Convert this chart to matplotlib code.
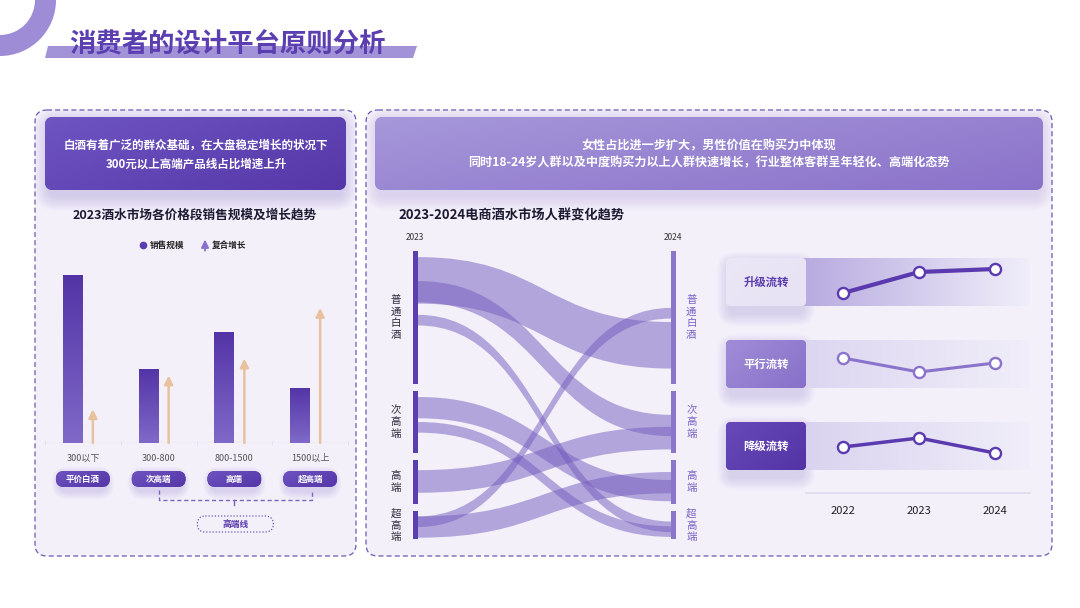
import numpy as np
import matplotlib
matplotlib.use('Agg')
import matplotlib.pyplot as plt
from matplotlib.patches import FancyBboxPatch, Polygon, Wedge, PathPatch
from matplotlib.path import Path
import matplotlib.colors as mcolors

plt.rcParams['font.family'] = ['Noto Sans CJK SC', 'DejaVu Sans']

# ---------------- data ----------------
title = '消费者的设计平台原则分析'
left_note = ['白酒有着广泛的群众基础，在大盘稳定增长的状况下', '300元以上高端产品线占比增速上升']
right_note = ['女性占比进一步扩大，男性价值在购买力中体现',
              '同时18-24岁人群以及中度购买力以上人群快速增长，行业整体客群呈年轻化、高端化态势']
bar_title = '2023酒水市场各价格段销售规模及增长趋势'
legend_labels = ['销售规模', '复合增长']
price_ranges = ['300以下', '300-800', '800-1500', '1500以上']
segments = ['平价白酒', '次高端', '高端', '超高端']
sales = [1680, 740, 1110, 550]
growth = [5.0, 10.0, 12.5, 20.0]
bracket_label = '高端线'

sankey_title = '2023-2024电商酒水市场人群变化趋势'
sankey_years = ['2023', '2024']
nodes = ['普通白酒', '次高端', '高端', '超高端']
share_2023 = [50, 23, 16.5, 10.5]
share_2024 = [50, 23, 16.5, 10.5]
flow_src = [0, 0, 0, 1, 1, 2, 3, 3]
flow_dst = [0, 1, 3, 2, 3, 1, 0, 2]
flow_val = [17.5, 8, 4, 8, 4, 8.5, 4, 8]

trend_labels = ['升级流转', '平行流转', '降级流转']
trend_years = [2022, 2023, 2024]
upgrade = [13, 34, 37]
parallel = [30, 16, 25]
downgrade = [23, 32, 17]
trend_values = [upgrade, parallel, downgrade]

# ---------------- figure ----------------
W, H = 1080, 608
fig = plt.figure(figsize=(W / 100, H / 100), dpi=100)
fig.patch.set_facecolor('white')


def frac(x0, y0, x1, y1):
    return [x0 / W, 1 - y1 / H, (x1 - x0) / W, (y1 - y0) / H]


bg = fig.add_axes([0, 0, 1, 1], zorder=0)
bg.axis('off')
bg.set_xlim(0, W)
bg.set_ylim(H, 0)
bg.set_autoscale_on(False)


def rbox(x0, y0, x1, y1, r, **kw):
    p = FancyBboxPatch((x0, y0), x1 - x0, y1 - y0,
                       boxstyle=f'round,pad=0,rounding_size={r}', **kw)
    bg.add_patch(p)
    return p


def gradient(ax, x0, y0, x1, y1, c0, c1, mode='h', clip=None, z=2):
    cmap = mcolors.LinearSegmentedColormap.from_list('g', [c0, c1])
    n = 200
    if mode == 'h':
        arr = np.tile(np.linspace(0, 1, n), (2, 1))
    elif mode == 'v':
        arr = np.tile(np.linspace(0, 1, n)[:, None], (1, 2))
    else:
        X, Y = np.meshgrid(np.linspace(0, 1, n), np.linspace(0, 1, n))
        arr = X * 0.6 + Y * 0.4
    im = ax.imshow(arr, extent=(x0, x1, y1, y0), cmap=cmap, vmin=0, vmax=1,
                   aspect='auto', interpolation='bilinear', zorder=z)
    if clip is not None:
        im.set_clip_path(clip)
    return im


def shadow(x0, y0, x1, y1, r, color='#7a62c8', dy=6, n=8, spread=1.8, alpha=0.03, z=1.5):
    for i in range(n):
        p = (i + 1) * spread
        q = FancyBboxPatch((x0 + 4, y0 + dy), x1 - x0 - 8, y1 - y0,
                           boxstyle=f'round,pad={p},rounding_size={r + p}',
                           facecolor=color, edgecolor='none', alpha=alpha, zorder=z)
        bg.add_patch(q)


def grad_box(x0, y0, x1, y1, r, c0, c1, mode='d', z=2):
    clip = rbox(x0, y0, x1, y1, r, facecolor=c1, edgecolor='none', zorder=z)
    gradient(bg, x0, y0, x1, y1, c0, c1, mode=mode, clip=clip, z=z + 0.1)
    return clip


# title decoration
bg.add_patch(Wedge((0, 0), 56, 270, 360, width=21, facecolor='#9e8cd6', edgecolor='none', zorder=2))
bg.add_patch(Wedge((0, 0), 56, 0, 90, width=21, facecolor='#9e8cd6', edgecolor='none', zorder=2))
bg.add_patch(Polygon([(48, 46), (417, 46), (413, 58), (45, 58)], closed=True,
                     facecolor='#a292d8', edgecolor='none', zorder=2))
bg.text(69, 45, title, fontsize=19, fontweight='bold', color='#5b3fb0',
        ha='left', va='center', zorder=5)

# panels
dash = (0, (4, 2.5))
rbox(35, 110, 356, 556, 12, facecolor='#f3f0fa', edgecolor='#6b59b6', lw=0.9, linestyle=dash, zorder=1)
rbox(366, 110, 1052, 556, 12, facecolor='#f3f0fa', edgecolor='#6b59b6', lw=0.9, linestyle=dash, zorder=1)

# header boxes
shadow(45, 117, 346, 190, 8)
grad_box(45, 117, 346, 190, 8, '#6e55c2', '#5637a8')
bg.text(196, 145, left_note[0], fontsize=8.3, fontweight='bold', color='white', ha='center', va='center', zorder=5)
bg.text(196, 164, left_note[1], fontsize=8.3, fontweight='bold', color='white', ha='center', va='center', zorder=5)

shadow(375, 117, 1043, 190, 8, alpha=0.025)
grad_box(375, 117, 1043, 190, 8, '#a697da', '#8a72c9')
bg.text(709, 146, right_note[0], fontsize=8.7, fontweight='bold', color='white', ha='center', va='center', zorder=5)
bg.text(709, 163, right_note[1], fontsize=8.7, fontweight='bold', color='white', ha='center', va='center', zorder=5)

# subtitles
bg.text(195, 215, bar_title, fontsize=9.1, fontweight='bold', color='#1d1b33', ha='center', va='center', zorder=5)
bg.text(398, 216, sankey_title, fontsize=9.5, fontweight='bold', color='#1d1b33', ha='left', va='center', zorder=5)

# legend
bg.plot([143], [245], 'o', ms=4.5, color='#5a3dae', zorder=5)
bg.text(150, 245, legend_labels[0], fontsize=6.2, fontweight='bold', color='#222', ha='left', va='center', zorder=5)
bg.annotate('', xy=(205, 239.5), xytext=(205, 250.5),
            arrowprops=dict(arrowstyle='-|>,head_length=0.45,head_width=0.22', color='#8a72cc',
                            lw=1.4, shrinkA=0, shrinkB=0), zorder=5)
bg.text(212, 245, legend_labels[1], fontsize=6.2, fontweight='bold', color='#222', ha='left', va='center', zorder=5)

# ---------------- bar chart ----------------
ax = fig.add_axes(frac(45, 260, 348, 443), zorder=2)
ax.set_facecolor('none')
x = np.arange(len(sales))
bw = 0.264
off = 0.132
ymax_bar = 1830
bars = ax.bar(x - off, sales, width=bw, color='#6a50b8', zorder=2)
for b in bars:
    bx, bwid, bh = b.get_x(), b.get_width(), b.get_height()
    cmap = mcolors.LinearSegmentedColormap.from_list('b', ['#5334a6', '#7f69c8'])
    im = ax.imshow(np.tile(np.linspace(0, 1, 100)[:, None], (1, 2)), extent=(bx, bx + bwid, 0, bh),
                   cmap=cmap, vmin=0, vmax=1, aspect='auto', zorder=3)
    im.set_clip_path(b)
ax.set_xlim(-0.5, 3.5)
ax.set_ylim(0, ymax_bar)
for s in ax.spines.values():
    s.set_visible(False)
ax.axhline(0, color='#e1dcec', lw=1.0, zorder=1)
ax.set_yticks([])
ax.set_xticks(x)
ax.set_xticklabels(price_ranges, fontsize=6.5, color='#555555')
ax.tick_params(axis='x', length=0, pad=8)
ax.set_xticks(np.arange(-0.5, 4, 1), minor=True)
ax.tick_params(axis='x', which='minor', length=3, color='#e1dcec', direction='inout')

ax2 = ax.twinx()
ax2.set_ylim(0, 27.1)
ax2.set_facecolor('none')
ax2.axis('off')
for xi, g in zip(x, growth):
    ax2.annotate('', xy=(xi + off, g), xytext=(xi + off, 0),
                 arrowprops=dict(arrowstyle='-|>,head_length=0.5,head_width=0.25', color='#e8c29f',
                                 lw=1.8, shrinkA=0, shrinkB=0), zorder=4)

# pills under bars
inv = bg.transData.inverted()
pill_cx = []
for i, seg in enumerate(segments):
    cx = inv.transform(ax.transData.transform((i, 0)))[0]
    pill_cx.append(cx)
    shadow(cx - 27, 471, cx + 27, 487, 8, dy=4, n=5, spread=1.6, alpha=0.045)
    grad_box(cx - 27, 471, cx + 27, 487, 8, '#6d53c0', '#5536a8', mode='d', z=3)
    bg.text(cx, 479, seg, fontsize=6.1, fontweight='bold', color='white', ha='center', va='center', zorder=6)

# bracket for high-end line
bx0, bx1, bxm = pill_cx[1], pill_cx[3] + 2, pill_cx[2]
bg.plot([bx0, bx0, bx1, bx1], [490, 500, 500, 490], color='#7a66c0', lw=1.0,
        linestyle=(0, (3, 2)), zorder=3)
bg.plot([bxm, bxm], [500, 505], color='#7a66c0', lw=1.0, zorder=3)
rbox(bxm - 37, 516, bxm + 39, 532, 8, facecolor='none', edgecolor='#6b59b6', lw=0.9,
     linestyle=(0, (1, 1.5)), zorder=3)
bg.text(bxm + 1, 524, bracket_label, fontsize=6.3, fontweight='bold', color='#5a3dae',
        ha='center', va='center', zorder=6)

# ---------------- sankey ----------------
sk = fig.add_axes(frac(413, 251, 676, 539.3), zorder=2)
sk.set_facecolor('none')
sk.axis('off')
gap = 2.8
total = sum(share_2023) + gap * (len(nodes) - 1)
nw = 5 / 263


def tops(shares):
    t, out = 0.0, []
    for v in shares:
        out.append(t)
        t += v + gap
    return out


top_l, top_r = tops(share_2023), tops(share_2024)

# layout offsets of each ribbon inside its node (visual arrangement)
src_off = [2.3, 11.3, 24.0, 2.1, 11.5, 3.8, 1.9, 1.9]
dst_off = [26.7, 8.8, 3.8, 7.5, 5.6, 13.3, 21.4, 4.5]


def ribbon(x0, y0t, y0b, x1, y1t, y1b):
    xm = (x0 + x1) / 2
    verts = [(x0, y0t), (xm, y0t), (xm, y1t), (x1, y1t),
             (x1, y1b), (xm, y1b), (xm, y0b), (x0, y0b), (x0, y0t)]
    codes = [Path.MOVETO, Path.CURVE4, Path.CURVE4, Path.CURVE4,
             Path.LINETO, Path.CURVE4, Path.CURVE4, Path.CURVE4, Path.CLOSEPOLY]
    return Path(verts, codes)


for s, d, v, so, do in zip(flow_src, flow_dst, flow_val, src_off, dst_off):
    y0 = top_l[s] + so
    y1 = top_r[d] + do
    sk.add_patch(PathPatch(ribbon(nw, y0, y0 + v, 1 - nw, y1, y1 + v),
                           facecolor='#735cbe', edgecolor='none', alpha=0.5, zorder=2))

for i, name in enumerate(nodes):
    sk.bar(nw / 2, share_2023[i], bottom=top_l[i], width=nw, color='#5a3dae', zorder=3)
    sk.bar(1 - nw / 2, share_2024[i], bottom=top_r[i], width=nw, color='#8b76cc', zorder=3)
    sk.text(-0.065, top_l[i] + share_2023[i] / 2, '\n'.join(name), fontsize=7.5, color='#2a2a3a',
            ha='center', va='center', linespacing=1.2, clip_on=False)
    sk.text(1.058, top_r[i] + share_2024[i] / 2, '\n'.join(name), fontsize=7.5, color='#7a62c4',
            ha='center', va='center', linespacing=1.2, clip_on=False)
sk.set_xlim(0, 1)
sk.set_ylim(total, 0)
sk.text(0.008, -4.9, sankey_years[0], fontsize=6, color='#333', ha='center', va='center', clip_on=False)
sk.text(0.99, -4.9, sankey_years[1], fontsize=6, color='#333', ha='center', va='center', clip_on=False)

# ---------------- trend rows ----------------
row_top = [258, 340, 422]
row_h = 48
band_c0 = ['#b6a9df', '#dcd5f0', '#d9d2ef']
box_style = [('#ebe7f6', '#e7e2f4', '#5a3dae'),
             ('#a08dd7', '#8770c9', 'white'),
             ('#6749ba', '#5234a5', 'white')]
line_col = ['#5a3aae', '#8a73cc', '#5a3aae']
line_w = [3.0, 2.2, 2.5]
xl = (2022 - 37 / 76, 2024 + 35 / 76)

for i, lab in enumerate(trend_labels):
    t = row_top[i]
    grad_box(798, t, 1030, t + row_h, 6, band_c0[i], '#f0eef9', mode='h', z=2)
    shadow(726, t, 806, t + row_h, 5, dy=7, n=7, spread=1.8, alpha=0.03)
    c0, c1, tc = box_style[i]
    grad_box(726, t, 806, t + row_h, 5, c0, c1, mode='d', z=3)
    bg.text(766, t + row_h / 2, lab, fontsize=8.2, fontweight='bold', color=tc,
            ha='center', va='center', zorder=6)
    la = fig.add_axes(frac(806, t, 1030, t + row_h), zorder=3)
    la.set_facecolor('none')
    la.axis('off')
    la.set_xlim(*xl)
    la.set_ylim(0, row_h)
    la.plot(trend_years, trend_values[i], color=line_col[i], lw=line_w[i], marker='o', ms=8,
            mfc='white', mec=line_col[i], mew=1.7, clip_on=False, solid_capstyle='round')

ya = fig.add_axes(frac(806, 492, 1030, 493), zorder=3)
ya.set_facecolor('none')
ya.set_xlim(*xl)
ya.set_yticks([])
for k, s in ya.spines.items():
    s.set_visible(k == 'bottom')
ya.spines['bottom'].set_color('#dedaea')
ya.spines['bottom'].set_linewidth(1.2)
ya.set_xticks(trend_years)
ya.set_xticklabels([str(y) for y in trend_years], fontsize=8, color='#222')
ya.tick_params(axis='x', length=0, pad=9)

bg.set_xlim(0, W)
bg.set_ylim(H, 0)
fig.savefig('out.png', dpi=100, facecolor='white')
